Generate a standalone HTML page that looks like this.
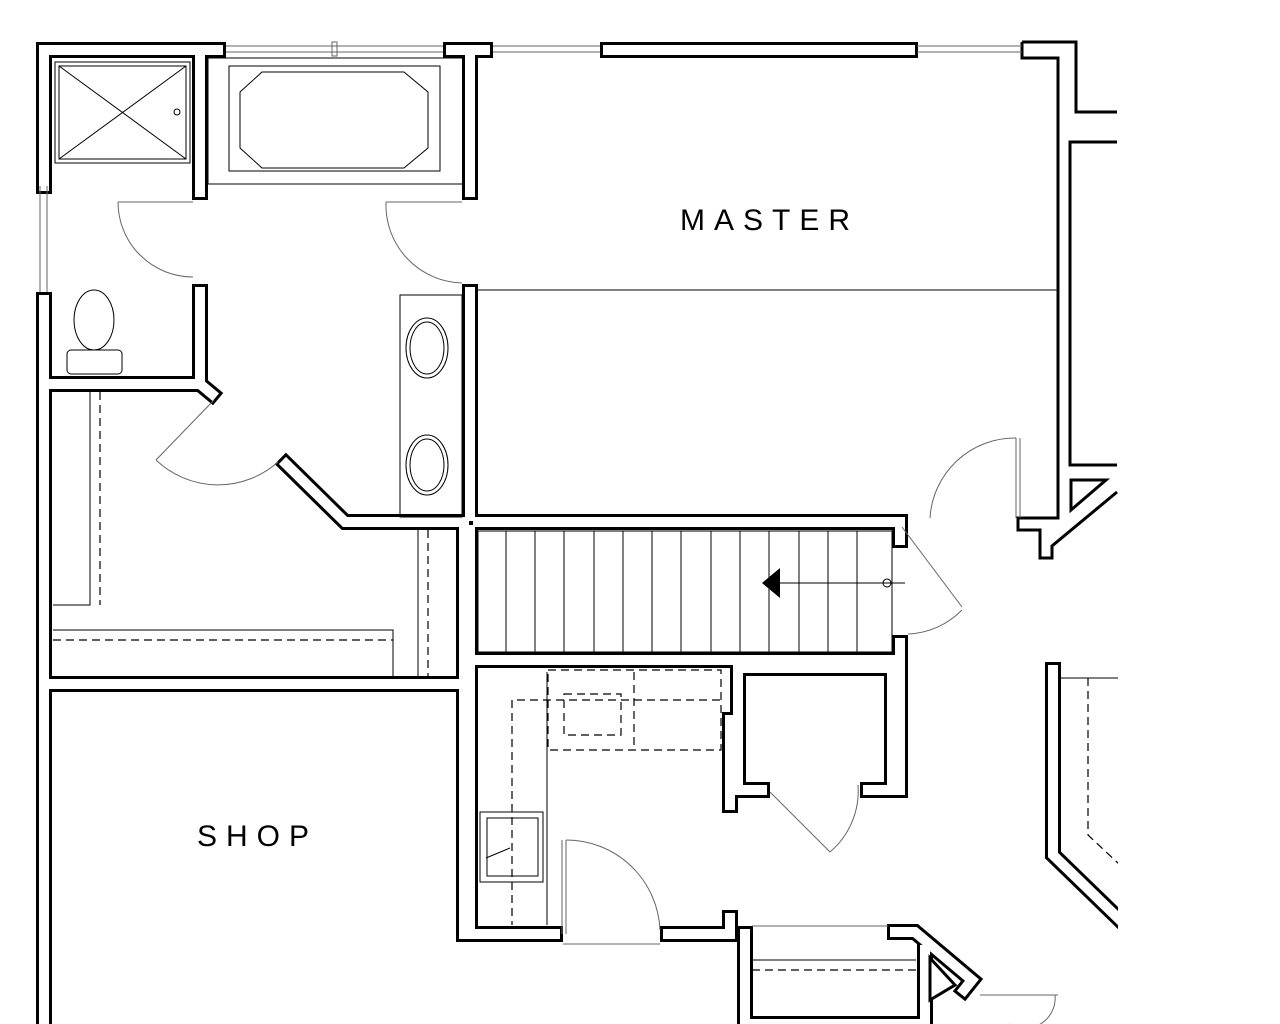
<!DOCTYPE html>
<html><head><meta charset="utf-8"><style>
html,body{margin:0;padding:0;background:#fff;width:1280px;height:1024px;overflow:hidden}
svg{display:block}
.w{fill:none;stroke:#000;stroke-width:16;stroke-linejoin:miter;stroke-linecap:square}
.wi{fill:none;stroke:#fff;stroke-width:10;stroke-linejoin:miter;stroke-linecap:square}
.t{fill:none;stroke:#000;stroke-width:1}
.k{fill:none;stroke:#000;stroke-width:3}
.g{fill:none;stroke:#666;stroke-width:1}
.d{fill:none;stroke:#000;stroke-width:1.2;stroke-dasharray:8 5}
text{font-family:"Liberation Sans",sans-serif;font-size:30px;letter-spacing:9px}
</style></head><body>
<svg width="1280" height="1024" viewBox="0 0 1280 1024">
<defs>
<g id="walls">
<polyline points="44,186 44,50 218,50"/>
<polyline points="44,300 44,1030"/>
<polyline points="200,58 200,192"/>
<polyline points="451,50 485,50"/>
<polyline points="470,58 470,192"/>
<polyline points="608,50 910,50"/>
<polyline points="52,384 200,384 200,292"/>
<polyline points="200,384 212,394"/>
<polyline points="470,292 470,516"/>
<polyline points="286,464 345,522 464,522"/>
<polyline points="478,522 900,522 900,540"/>
<polyline points="470,530 470,934 555,934"/>
<polyline points="464,530 464,676"/>
<polyline points="44,684 464,684"/>
<polyline points="464,692 464,934"/>
<polyline points="478,660 900,660 900,643"/>
<polyline points="900,660 900,790 868,790"/>
<polyline points="762,790 738,790 738,668 892,668"/>
<polyline points="892,668 892,784"/>
<polyline points="730,720 730,805"/>
<polyline points="668,934 730,934 730,918"/>
<polyline points="745,934 745,1030"/>
<polyline points="1053,670 1053,855 1120,920"/>
<polyline points="895,932 915,932 972,980 964,990"/>
<polyline points="925,950 925,1030"/>
<polyline points="745,1024 918,1024"/>
</g>
</defs>
<g class="w"><use href="#walls"/></g>
<g class="wi"><use href="#walls"/></g>

<!-- top-right walls as lines -->
<path class="k" d="M1022,42 L1076,42 L1076,112 L1117,112 M1022,42 L1022,58 L1058,58 L1058,518 L1018,518 L1018,530 L1040,530 L1040,558 L1052,558 L1052,546 L1117,492 M1117,142 L1070,142 L1070,465 L1117,465"/>
<!-- triangles -->
<polygon points="1071,480 1106,480 1071,510" fill="#fff" stroke="#000" stroke-width="3"/>
<polygon points="930,958 955,985 930,1000" fill="#fff" stroke="#000" stroke-width="3"/>

<!-- windows -->
<line x1="226" y1="46" x2="443" y2="46" class="g"/><line x1="226" y1="52" x2="443" y2="52" class="g"/>
<rect x="332" y="42" width="5" height="14" class="g"/>
<line x1="493" y1="46" x2="600" y2="46" class="g"/><line x1="493" y1="52" x2="600" y2="52" class="g"/>
<line x1="917" y1="46" x2="1022" y2="46" class="g"/><line x1="917" y1="52" x2="1022" y2="52" class="g"/>
<line x1="40" y1="186" x2="40" y2="292" class="g"/><line x1="47" y1="186" x2="47" y2="292" class="g"/>

<!-- shower -->
<rect x="55" y="62" width="135" height="101" class="t" stroke-width="2"/>
<rect x="59" y="66" width="127" height="93" class="t"/>
<line x1="59" y1="66" x2="186" y2="159" class="t"/><line x1="186" y1="66" x2="59" y2="159" class="t"/>
<circle cx="177" cy="112" r="3" class="t"/>
<!-- tub -->
<rect x="208" y="58" width="256" height="126" class="t"/>
<rect x="229" y="66" width="211" height="105" class="t"/>
<polygon points="262,72 404,72 428,92 428,148 404,168 262,168 240,148 240,92" class="t"/>
<!-- master -->
<line x1="478" y1="290" x2="1058" y2="290" class="t"/>
<text x="680" y="230">MASTER</text>
<text x="197" y="846">SHOP</text>
<!-- vanity -->
<rect x="400" y="295" width="62" height="222" class="t"/>
<ellipse cx="427" cy="348" rx="21" ry="30" class="t" stroke-width="2"/>
<ellipse cx="427" cy="348" rx="17" ry="26" class="t"/>
<ellipse cx="427" cy="465" rx="21" ry="30" class="t" stroke-width="2"/>
<ellipse cx="427" cy="465" rx="17" ry="26" class="t"/>
<!-- toilet -->
<ellipse cx="94" cy="320" rx="20" ry="30" class="t" stroke-width="2"/>
<rect x="67" y="350" width="55" height="24" rx="4" class="t" stroke-width="2"/>
<!-- doors -->
<path d="M118,202 A75,75 0 0 0 193,277" class="g"/><line x1="118" y1="202" x2="193" y2="202" class="g"/>
<path d="M386,202 A78,78 0 0 0 462,283" class="g"/><line x1="386" y1="202" x2="462" y2="202" class="g"/>
<path d="M156,460 A90,90 0 0 0 278,462" class="g"/><line x1="156" y1="460" x2="214" y2="400" class="g"/>
<path d="M930,518 A85,85 0 0 1 1016,438" class="g"/><line x1="1016" y1="438" x2="1016" y2="518" class="g"/><line x1="1020" y1="438" x2="1020" y2="518" class="g"/>
<path d="M908,634 A80,80 0 0 0 962,610" class="g"/><line x1="902" y1="527" x2="962" y2="607" class="g"/>
<path d="M830,852 A80,80 0 0 0 858,785" class="g"/><line x1="770" y1="792" x2="830" y2="852" class="g"/>
<path d="M566,840 A94,94 0 0 1 660,930" class="g"/><line x1="566" y1="840" x2="566" y2="934" class="g"/><line x1="562" y1="840" x2="562" y2="934" class="g"/>
<line x1="563" y1="944" x2="660" y2="944" class="g"/>
<path d="M1010,1024 A30,30 0 0 0 1055,995" class="g"/><line x1="980" y1="995" x2="1058" y2="995" class="g"/>
<!-- stairs -->
<rect x="478" y="531" width="414" height="121" class="t"/>
<g class="t">
<line x1="506" y1="531" x2="506" y2="652"/><line x1="535" y1="531" x2="535" y2="652"/><line x1="564" y1="531" x2="564" y2="652"/><line x1="594" y1="531" x2="594" y2="652"/><line x1="623" y1="531" x2="623" y2="652"/><line x1="652" y1="531" x2="652" y2="652"/><line x1="681" y1="531" x2="681" y2="652"/><line x1="711" y1="531" x2="711" y2="652"/><line x1="740" y1="531" x2="740" y2="652"/><line x1="769" y1="531" x2="769" y2="652"/><line x1="799" y1="531" x2="799" y2="652"/><line x1="828" y1="531" x2="828" y2="652"/><line x1="857" y1="531" x2="857" y2="652"/>
<line x1="770" y1="583" x2="905" y2="583"/><circle cx="887" cy="583" r="4"/>
</g>
<polygon points="762,583 780,568 780,598" fill="#000"/>
<!-- closet shelves -->
<polyline points="90,392 90,605 53,605" class="t"/><polyline points="100,392 100,605" class="d"/>
<polyline points="53,630 393,630 393,676" class="t"/><line x1="53" y1="640" x2="393" y2="640" class="d"/>
<polyline points="418,530 418,676" class="t"/><line x1="428" y1="530" x2="428" y2="676" class="d"/>
<!-- laundry -->
<line x1="547" y1="672" x2="547" y2="925" class="t"/>
<rect x="548" y="670" width="173" height="80" class="d"/>
<rect x="564" y="694" width="57" height="41" class="d"/>
<line x1="634" y1="672" x2="634" y2="750" class="d"/>
<polyline points="720,700 512,700 512,925" class="d"/>
<rect x="480" y="812" width="63" height="70" class="t"/>
<rect x="487" y="818" width="51" height="58" class="t"/>
<line x1="486" y1="858" x2="510" y2="848" class="t"/>
<!-- right dashed -->
<polyline points="1060,678 1120,678" class="t"/>
<polyline points="1088,678 1088,835 1120,865" class="d"/>
<!-- bottom right -->
<line x1="752" y1="960" x2="916" y2="960" class="t"/><line x1="752" y1="970" x2="916" y2="970" class="d"/>
<line x1="752" y1="926" x2="888" y2="926" class="g"/>
<rect x="1118" y="0" width="162" height="1024" fill="#fff"/>
</svg>
</body></html>
